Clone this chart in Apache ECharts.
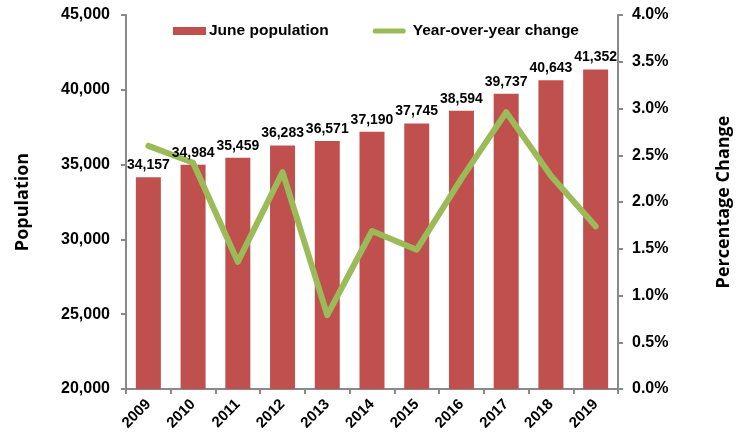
<!DOCTYPE html>
<html>
<head>
<meta charset="utf-8">
<script src="https://cdn.jsdelivr.net/npm/echarts@6/dist/echarts.min.js"></script>
<style>
  html, body { margin: 0; padding: 0; background: #fff; }
  #chart { width: 743px; height: 436px; }
</style>
</head>
<body>
<div id="chart"></div>
<script>
// data
var years = ["2009", "2010", "2011", "2012", "2013", "2014", "2015", "2016", "2017", "2018", "2019"];
var population = [34157, 34984, 35459, 36283, 36571, 37190, 37745, 38594, 39737, 40643, 41352];
var yoyChange = [2.6, 2.42, 1.36, 2.32, 0.79, 1.69, 1.49, 2.25, 2.96, 2.28, 1.74];

var font = "Liberation Sans, Arial, sans-serif";
var nameFont = "Open Sans, sans-serif";
var axisGray = "#898989";
var barColor = "#C0504D";
var lineColor = "#9BBB59";

var mychart = echarts.init(document.getElementById("chart"));

function fmtPop(p) {
  return p.value.toLocaleString("en-US");
}

var option = {
  animation: false,
  textStyle: { fontFamily: font },
  legend: {
    top: 18,
    left: 168,
    itemGap: 44,
    itemWidth: 33,
    itemHeight: 8,
    textStyle: { fontFamily: font, fontWeight: "bold", fontSize: 15.5, color: "#000", padding: [0, 0, 0, -2] },
    data: [
      { name: "June population", icon: "rect", itemStyle: { color: barColor } },
      {
        name: "Year-over-year change",
        icon: "path://M3,0L35,0A3,3,0,0,1,35,6L3,6A3,3,0,0,1,3,0Z",
        itemStyle: { color: lineColor },
        textStyle: { padding: [0, 0, 0, 2] }
      }
    ]
  },
  grid: { left: 126, right: 125, top: 15, bottom: 47 },
  xAxis: {
    type: "category",
    data: years,
    axisLine: { lineStyle: { color: axisGray, width: 2 } },
    axisTick: { show: true, length: 5, lineStyle: { color: axisGray, width: 2 } },
    axisLabel: {
      rotate: 45,
      margin: 13,
      fontFamily: font,
      fontWeight: "bold",
      fontSize: 15,
      color: "#000"
    }
  },
  yAxis: [
    {
      type: "value",
      min: 20000,
      max: 45000,
      interval: 5000,
      name: "Population",
      nameLocation: "middle",
      nameGap: 94,
      nameTextStyle: { fontFamily: nameFont, fontWeight: "bold", fontSize: 18, color: "#000" },
      axisLine: { show: true, lineStyle: { color: axisGray, width: 2 } },
      axisTick: { show: true, length: 5, lineStyle: { color: axisGray, width: 2 } },
      splitLine: { show: false },
      axisLabel: {
        margin: 16,
        fontFamily: font,
        fontWeight: "bold",
        fontSize: 16,
        color: "#000",
        formatter: function (v) {
          return v.toLocaleString("en-US");
        }
      }
    },
    {
      type: "value",
      min: 0,
      max: 4,
      interval: 0.5,
      name: "Percentage Change",
      nameLocation: "middle",
      nameGap: 97,
      nameRotate: 90,
      nameTextStyle: { fontFamily: nameFont, fontWeight: "bold", fontSize: 18, color: "#000" },
      axisLine: { show: true, lineStyle: { color: axisGray, width: 2 } },
      axisTick: { show: true, length: 5, lineStyle: { color: axisGray, width: 2 } },
      splitLine: { show: false },
      axisLabel: {
        margin: 14,
        fontFamily: font,
        fontWeight: "bold",
        fontSize: 16,
        color: "#000",
        formatter: function (v) {
          return v.toFixed(1) + "%";
        }
      }
    }
  ],
  series: [
    {
      name: "June population",
      type: "bar",
      yAxisIndex: 0,
      data: population,
      barWidth: 25,
      itemStyle: { color: barColor },
      z: 2
    },
    {
      name: "Year-over-year change",
      type: "line",
      yAxisIndex: 1,
      data: yoyChange,
      showSymbol: false,
      symbol: "none",
      lineStyle: { color: lineColor, width: 6, cap: "round", join: "round" },
      itemStyle: { color: lineColor },
      z: 3
    },
    {
      // value labels drawn above the line
      name: "labels",
      type: "bar",
      yAxisIndex: 0,
      data: population,
      barWidth: 25,
      barGap: "-100%",
      silent: true,
      itemStyle: { color: "rgba(0,0,0,0)" },
      label: {
        show: true,
        position: "top",
        distance: 5,
        fontFamily: font,
        fontWeight: "bold",
        fontSize: 14,
        color: "#000",
        formatter: fmtPop
      },
      z: 4
    }
  ]
};
mychart.setOption(option, true);
</script>
</body>
</html>
